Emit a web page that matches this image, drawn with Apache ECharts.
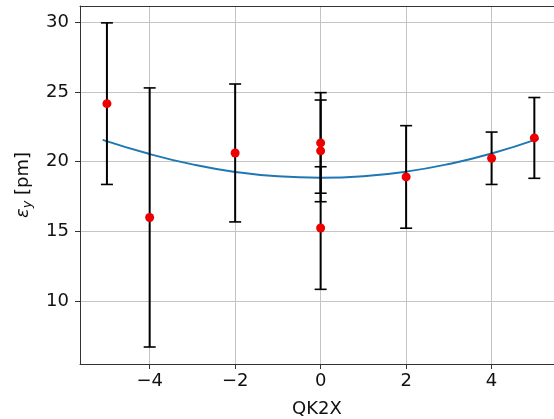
<!DOCTYPE html>
<html>
<head>
<meta charset="utf-8">
<script src="https://cdn.jsdelivr.net/npm/echarts@6/dist/echarts.min.js"></script>
<style>
html,body{margin:0;padding:0;background:#fff;}
#chart{width:554px;height:419px;}
</style>
</head>
<body>
<div id="chart"></div>
<script>
// Measured points (QK2X setting, emittance) with symmetric error bars
const qk2x = [-5, -4, -2, 0, 0, 0, 2, 4, 5];
const epsY = [24.16, 15.99, 20.62, 21.34, 20.77, 15.23, 18.90, 20.24, 21.70];
const epsErr = [5.8, 9.3, 4.95, 3.61, 3.65, 4.4, 3.68, 1.88, 2.9];
// Fitted curve
const fitX = [-5.1, -4, -3, -2, -1, 0, 1, 2, 3, 4, 5.1];
const fitY = [21.56, 20.54, 19.80, 19.26, 18.94, 18.84, 18.95, 19.28, 19.83, 20.58, 21.65];
// Tick labels
const xTicks = [-4, -2, 0, 2, 4];
const yTicks = [10, 15, 20, 25, 30];

const FONT = 'DejaVu Sans';
const FS = 18;
const chart = echarts.init(document.getElementById('chart'), null, {renderer: 'canvas'});

const errData = qk2x.map((x, i) => [x, epsY[i], epsErr[i]]);
const ptData = qk2x.map((x, i) => [x, epsY[i]]);
const fitData = fitX.map((x, i) => [x, fitY[i]]);

const X_MIN = -5.63, X_MAX = 5.46;

chart.setOption({
  animation: false,
  backgroundColor: '#fff',
  grid: {left: 80, top: 6, right: 0, bottom: 55, show: false, containLabel: false, outerBoundsMode: 'none'},
  xAxis: [{
    type: 'value', min: X_MIN, max: X_MAX,
    name: 'QK2X', nameLocation: 'middle', nameGap: 36,
    nameTextStyle: {fontFamily: FONT, fontSize: FS, color: '#111'},
    axisLine: {show: true, onZero: false, lineStyle: {color: '#333', width: 1}},
    axisTick: {show: true, inside: false, length: 5, customValues: xTicks, lineStyle: {color: '#333', width: 1}},
    axisLabel: {customValues: xTicks, fontFamily: FONT, fontSize: FS, color: '#111', margin: 8,
      formatter: v => (v < 0 ? '\u2212' + Math.abs(v) : String(v))},
    splitLine: {show: true, lineStyle: {color: '#c4c4c4', width: 1}}
  }, {
    type: 'value', position: 'top', min: X_MIN, max: X_MAX,
    axisLine: {show: true, onZero: false, lineStyle: {color: '#333', width: 1}},
    axisTick: {show: false}, axisLabel: {show: false}, splitLine: {show: false}
  }],
  yAxis: {
    type: 'value', min: 5.47, max: 31.17,
    name: '{e|ε}{s|y} [pm]', nameLocation: 'middle', nameGap: 46, nameRotate: 90,
    nameTextStyle: {fontFamily: FONT, fontSize: FS, color: '#111',
      rich: {
        e: {fontFamily: FONT, fontSize: FS, fontStyle: 'italic', color: '#111'},
        s: {fontFamily: FONT, fontSize: 13, fontStyle: 'italic', color: '#111', padding: [9, 0, 0, 0]}
      }},
    axisLine: {show: true, onZero: false, lineStyle: {color: '#333', width: 1}},
    axisTick: {show: true, inside: false, length: 5, customValues: yTicks, lineStyle: {color: '#333', width: 1}},
    axisLabel: {customValues: yTicks, fontFamily: FONT, fontSize: FS, color: '#111', margin: 11},
    splitLine: {show: true, lineStyle: {color: '#c4c4c4', width: 1}}
  },
  series: [
    {
      type: 'line', data: fitData, smooth: true, showSymbol: false, z: 2,
      lineStyle: {color: '#1f77b4', width: 2}
    },
    {
      type: 'custom', data: errData, z: 3,
      renderItem: function (params, api) {
        const x = api.value(0), y = api.value(1), e = api.value(2);
        const top = api.coord([x, y + e]);
        const bot = api.coord([x, y - e]);
        const hw = 6;
        return {
          type: 'group',
          children: [
            {type: 'line', shape: {x1: top[0], y1: top[1], x2: bot[0], y2: bot[1]}, style: {stroke: '#000', lineWidth: 2}},
            {type: 'line', shape: {x1: top[0] - hw, y1: top[1], x2: top[0] + hw, y2: top[1]}, style: {stroke: '#000', lineWidth: 1.6}},
            {type: 'line', shape: {x1: bot[0] - hw, y1: bot[1], x2: bot[0] + hw, y2: bot[1]}, style: {stroke: '#000', lineWidth: 1.6}}
          ]
        };
      }
    },
    {
      type: 'scatter', data: ptData, symbolSize: 9, z: 4,
      itemStyle: {color: '#ee0000', opacity: 1}
    }
  ]
});
</script>
</body>
</html>
